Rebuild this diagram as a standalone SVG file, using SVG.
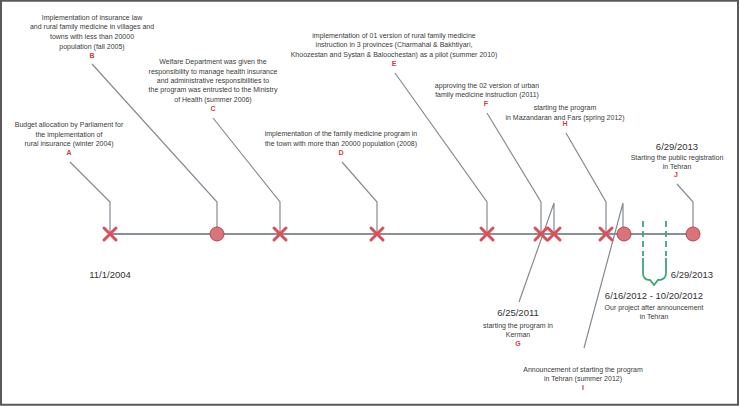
<svg xmlns="http://www.w3.org/2000/svg" width="739" height="406" viewBox="0 0 739 406">
<defs>
<style>
.t{font-family:"Liberation Sans",Arial,sans-serif;font-size:7px;fill:#3a3a3a;text-anchor:middle}
.l{font-family:"Liberation Sans",Arial,sans-serif;font-size:7px;fill:#d03a3f;text-anchor:middle;font-weight:bold}
.d{font-family:"Liberation Sans",Arial,sans-serif;font-size:9.5px;fill:#333;text-anchor:middle}
.ld{fill:none;stroke:#858b92;stroke-width:1.2}
.x{stroke:#d9505a;stroke-width:3;stroke-linecap:round;fill:none}
.c{fill:#d9747a;stroke:#b9474f;stroke-width:1}
.g{fill:none;stroke:#3fa57a;stroke-width:1.8}
</style>
<g id="xm"><path class="x" d="M-6,-6L6,6M6,-6L-6,6"/></g>
</defs>
<rect x="1" y="0.75" width="737" height="404" fill="#fff" stroke="#5a5a5a" stroke-width="2"/>
<g id="connectors">
<line x1="110" y1="234" x2="693" y2="234" stroke="#8a9097" stroke-width="2"/>
<polyline class="ld" points="70,162 110,202 110,234"/>
<polyline class="ld" points="92,64 217,202 217,234"/>
<polyline class="ld" points="213,118 280,202 280,234"/>
<polyline class="ld" points="342,162 377,202 377,234"/>
<polyline class="ld" points="395,73 487,202 487,234"/>
<polyline class="ld" points="487,113 541,202 541,234"/>
<polyline class="ld" points="519,302 554,203 554,234"/>
<polyline class="ld" points="566,133 606,202 606,234"/>
<polyline class="ld" points="584,348 623,203 623,234"/>
<polyline class="ld" points="677,184 693,202 693,234"/>
</g>
<g id="A"><use href="#xm" x="110" y="234"/>
<text class="t" x="69" y="127">Budget allocation by Parliament for</text>
<text class="t" x="69" y="137">the implementation of</text>
<text class="t" x="69" y="146">rural insurance (winter 2004)</text>
<text class="l" x="69" y="155">A</text>
<text class="d" x="110" y="278">11/1/2004</text></g>
<g id="B"><circle class="c" cx="217" cy="234" r="7"/>
<text class="t" x="92" y="20">Implementation of insurance law</text>
<text class="t" x="92" y="29">and rural family medicine in villages and</text>
<text class="t" x="92" y="39">towns with less than  20000</text>
<text class="t" x="92" y="49">population (fall 2005)</text>
<text class="l" x="92" y="58">B</text></g>
<g id="C"><use href="#xm" x="280" y="234"/>
<text class="t" x="213" y="64">Welfare Department was given the</text>
<text class="t" x="213" y="74">responsibility to manage health insurance</text>
<text class="t" x="213" y="83">and administrative responsibilities to</text>
<text class="t" x="213" y="92">the program was entrusted to the Ministry</text>
<text class="t" x="213" y="102">of Health (summer 2006)</text>
<text class="l" x="213" y="111">C</text></g>
<g id="D"><use href="#xm" x="377" y="234"/>
<text class="t" x="341" y="136">implementation of the family medicine program in</text>
<text class="t" x="341" y="146">the town with more than 20000 population (2008)</text>
<text class="l" x="341" y="155">D</text></g>
<g id="E"><use href="#xm" x="487" y="234"/>
<text class="t" x="394" y="38">implementation of 01 version of rural family medicine</text>
<text class="t" x="394" y="47">instruction in 3 provinces (Charmahal &amp; Bakhtiyari,</text>
<text class="t" x="394" y="57">Khoozestan and Systan &amp; Baloochestan) as a pilot (summer 2010)</text>
<text class="l" x="394" y="66">E</text></g>
<g id="F"><use href="#xm" x="541" y="234"/>
<text class="t" x="487" y="88">approving the 02 version of urban</text>
<text class="t" x="487" y="97">family medicine instruction (2011)</text>
<text class="l" x="486" y="106">F</text></g>
<g id="G"><use href="#xm" x="554" y="234"/>
<text class="d" x="518" y="316">6/25/2011</text>
<text class="t" x="518" y="328">starting the program in</text>
<text class="t" x="518" y="337">Kerman</text>
<text class="l" x="518" y="346">G</text></g>
<g id="H"><use href="#xm" x="606" y="234"/>
<text class="t" x="565" y="110">starting the program</text>
<text class="t" x="565" y="120">in Mazandaran and Fars (spring 2012)</text>
<text class="l" x="565" y="126">H</text></g>
<g id="I"><circle class="c" cx="624" cy="234" r="7"/>
<text class="t" x="583" y="372">Announcement of starting the program</text>
<text class="t" x="583" y="381">in Tehran (summer 2012)</text>
<text class="l" x="583" y="390">I</text></g>
<g id="J"><circle class="c" cx="693" cy="234" r="7"/>
<text class="d" x="677" y="150">6/29/2013</text>
<text class="t" x="677" y="160">Starting the public registration</text>
<text class="t" x="677" y="169">in Tehran</text>
<text class="l" x="676" y="177">J</text></g>
<g id="project">
<path class="g" d="M643,221V256M666,221V256" stroke-dasharray="6,4"/>
<path class="g" d="M643,258V273Q643,280 650,280L654,285L658,280Q666,280 666,273V258"/>
<text class="d" x="692" y="278">6/29/2013</text>
<text class="d" x="654" y="299">6/16/2012 - 10/20/2012</text>
<text class="t" x="654" y="310">Our project after announcement</text>
<text class="t" x="654" y="319">in Tehran</text>
</g>
</svg>
